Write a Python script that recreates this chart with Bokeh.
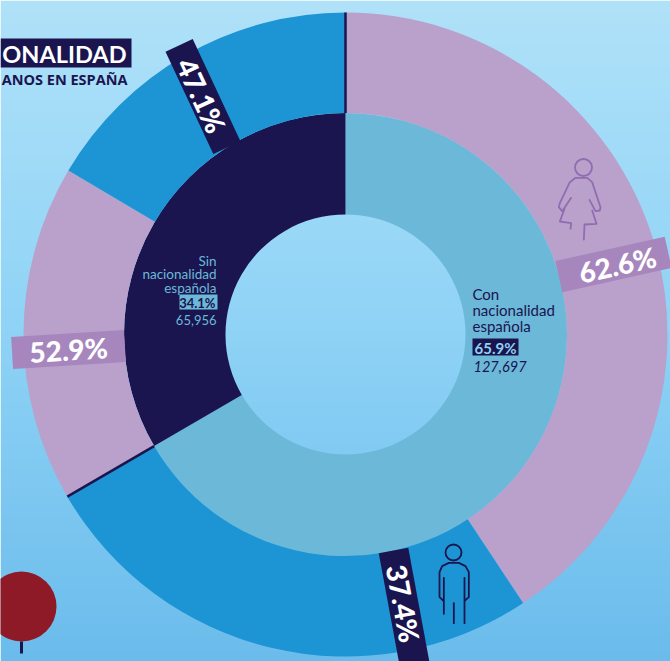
import math
import numpy as np
from bokeh.plotting import figure
from bokeh.models import Range1d
from bokeh.core.properties import value
from bokeh.embed import file_html
from bokeh.resources import INLINE

# ---- data
groups = ["Con nacionalidad española", "Sin nacionalidad española"]
group_shares = ["65.9%", "34.1%"]
group_count_labels = ["127,697", "65,956"]
women_pct = [62.6, 52.9]
men_pct = [37.4, 47.1]
# arc sizes as drawn in the picture, % of the full circle, clockwise from the top
inner_arcs = [66.6, 33.4]
outer_arcs = [40.7, 25.9, 16.9, 16.5]

W, H = 670, 661
NAVY = "#1a154f"
TEAL = "#6cb8d9"
LILAC = "#b9a1cc"
LILAC_D = "#a686bd"
BLUE = "#1d95d4"
LIGHT = "#8fd3f3"
FONT = "Lato"
HEAVY = "Lato Black"
CX, CY = 345, 334
R0, R1, R2 = 120, 221.5, 322


def Y(py):
    return H - py


p = figure(width=W, height=H, x_range=Range1d(0, W), y_range=Range1d(0, H),
           output_backend="svg", toolbar_location=None, min_border=0,
           outline_line_color=None, border_fill_color=None)
p.axis.visible = False
p.grid.visible = False
p.styles = {"position": "absolute", "left": "0", "top": "0"}

# background gradient (top to bottom)
stops_y = [0, 330, 661]
stops = np.array([[176, 226, 249], [143, 211, 246], [107, 188, 236]], dtype=float)
rows = H
rgba = np.zeros((rows, 2, 4), dtype=np.uint8)
for c in range(3):
    col = np.interp(np.arange(rows), stops_y, stops[:, c])[::-1]  # row 0 is bottom
    rgba[:, :, c] = col[:, None].astype(np.uint8)
rgba[:, :, 3] = 255
view = rgba[:, :, 0].astype(np.uint32) | (rgba[:, :, 1].astype(np.uint32) << 8) | \
    (rgba[:, :, 2].astype(np.uint32) << 16) | (rgba[:, :, 3].astype(np.uint32) << 24)
p.image_rgba(image=[view], x=0, y=0, dw=W, dh=H)


def ang(pct):
    return math.pi / 2 - pct / 100 * 2 * math.pi


def ring(arcs, colors, r_in, r_out):
    frac = 0.0
    for v, col in zip(arcs, colors):
        p.annular_wedge(x=CX, y=Y(CY), inner_radius=r_in, outer_radius=r_out,
                        start_angle=ang(frac + v), end_angle=ang(frac),
                        fill_color=col, line_color=None)
        frac += v


ring(inner_arcs, [TEAL, NAVY], R0, R1)
ring(outer_arcs, [LILAC, BLUE, LILAC, BLUE], R1, R2)

# thin navy separators closing each group
for end in np.cumsum(inner_arcs):
    a = ang(end)
    p.segment(x0=CX + R1 * math.cos(a), y0=Y(CY) + R1 * math.sin(a),
              x1=CX + R2 * math.cos(a), y1=Y(CY) + R2 * math.sin(a),
              line_color=NAVY, line_width=2.5)


def band(cx, cy, w, h, deg, color, label, tx=None, ty=None, size="28px"):
    p.rect(x=cx, y=Y(cy), width=w, height=h, angle=math.radians(deg),
           fill_color=color, line_color=None)
    p.text(x=cx if tx is None else tx, y=Y(cy if ty is None else ty), text=[label],
           angle=math.radians(deg), text_align="center", text_baseline="middle",
           text_color="white", text_font=value(HEAVY), text_font_style="normal",
           text_font_size=size)


band(613, 264, 112, 32, 12.5, LILAC_D, f"{women_pct[0]}%", 617, 264)
band(68, 349, 113, 32, 3.5, LILAC_D, f"{women_pct[1]}%")
band(202.5, 96, 113, 30, -65, NAVY, f"{men_pct[1]}%", 201, 95)
band(404.5, 612, 126, 30, -79.5, NAVY, f"{men_pct[0]}%", 403, 603)


def txt(x, y, s, color, size, align="left", style="normal", font=FONT):
    p.text(x=x, y=Y(y), text=[s], text_color=color, text_font=value(font),
           text_font_size=size, text_align=align, text_baseline="middle",
           text_font_style=style)


def box(x0, y0, x1, y1, color):
    p.quad(left=x0, right=x1, top=Y(y0), bottom=Y(y1), fill_color=color, line_color=None)


# title fragments
box(0, 38, 131, 67, NAVY)
txt(126, 53, "ONALIDAD", "white", "23.5px", "right", "bold")
txt(127, 79, "ANOS EN ESPAÑA", NAVY, "14.5px", "right", "bold", "Open Sans")

# label: Sin
for py, s in zip([260, 273, 287], ["Sin", "nacionalidad", "española"]):
    txt(216, py, s, TEAL, "13.5px", "right")
box(179, 294, 217, 309, TEAL)
txt(215, 302, group_shares[1], NAVY, "13px", "right", "bold")
txt(216, 319, group_count_labels[1], TEAL, "13px", "right")

# label: Con
for py, s in zip([293, 309, 325], ["Con", "nacionalidad", "española"]):
    txt(472, py, s, NAVY, "15px")
box(472, 338, 518, 355, NAVY)
txt(474, 347, group_shares[0], LIGHT, "15px", "left", "bold")
txt(473, 366, group_count_labels[0], NAVY, "14.5px", "left", "italic")


# person icons: paths measured on enlarged crops
def path(ox, oy, pts, color, lw=1.8):
    p.line([ox + a / 3 for a, _ in pts], [Y(oy + b / 3) for _, b in pts],
           line_color=color, line_width=lw, line_join="round", line_cap="round")


def head(x, y, r, color):
    p.circle(x=x, y=Y(y), radius=r, fill_color=None, line_color=color, line_width=1.8)


WOM = "#8f6db0"
head(583, 167, 8.5, WOM)
path(540, 140, [(92, 172), (65, 212), (55, 200), (58, 188), (88, 125), (105, 112), (140, 112),
                (155, 125), (180, 200), (178, 210), (165, 212), (147, 178)], WOM)
path(540, 140, [(72, 205), (58, 243), (92, 248), (90, 265)], WOM)
path(540, 140, [(155, 210), (168, 250), (132, 252), (130, 297)], WOM)

head(453, 552, 8, NAVY)
path(370, 530, [(218, 210), (207, 200), (207, 125), (215, 107), (235, 97), (265, 97), (285, 107),
                (295, 125), (295, 200), (283, 210)], NAVY)
path(370, 530, [(220, 142), (220, 250)], NAVY)
path(370, 530, [(282, 142), (282, 278)], NAVY)
path(370, 530, [(250, 218), (250, 278)], NAVY)

# red marker cropped by the edge
p.circle(x=21, y=Y(606), radius=35, fill_color="#8f1a27", line_color=None)
p.segment(x0=21, y0=Y(641), x1=21, y1=Y(653), line_color=NAVY, line_width=3)

open("out.html", "w").write(file_html(p, INLINE))
